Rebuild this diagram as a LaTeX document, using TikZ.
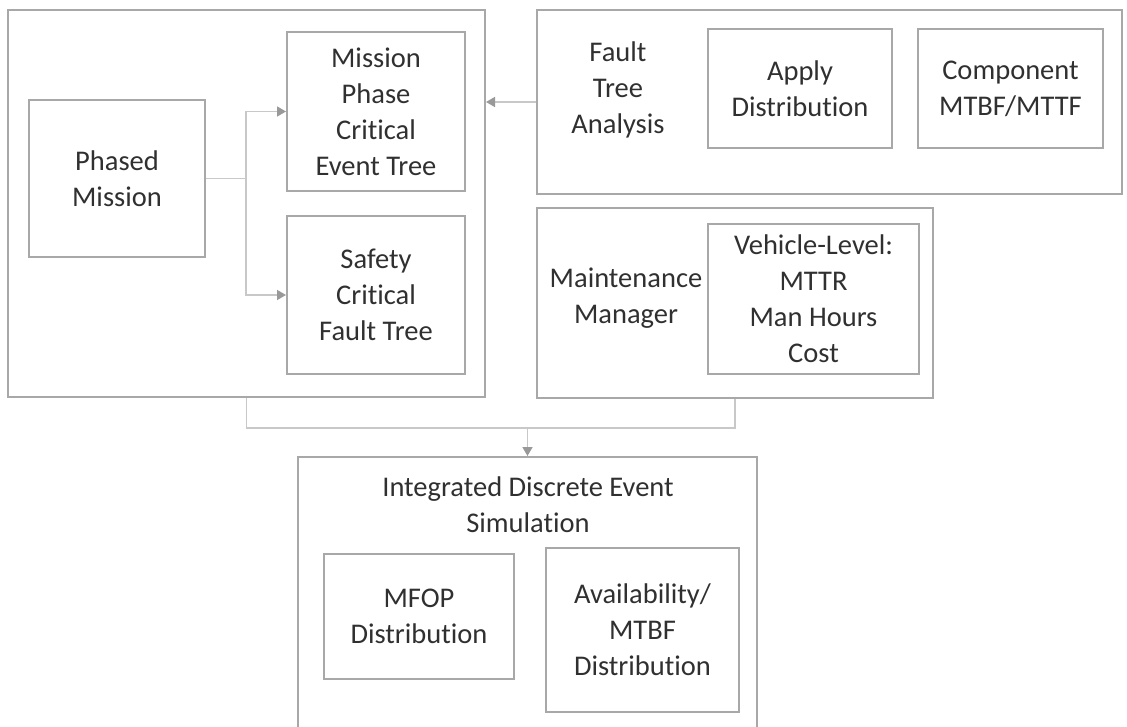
\documentclass[tikz,border=0pt]{standalone}
\usepackage{fontspec}
\setmainfont{Carlito}[Ligatures={NoCommon}]
\usetikzlibrary{arrows.meta,calc}
\definecolor{boxc}{HTML}{A8A8A8}
\definecolor{connc}{HTML}{C8C8C8}
\definecolor{tipc}{HTML}{999999}
\definecolor{txtc}{HTML}{303030}
\begin{document}
\begin{tikzpicture}[x=1pt,y=-1pt,
  every node/.style={font=\fontsize{28.5}{36}\selectfont, text=txtc, align=center, inner sep=0pt},
  box/.style={draw=boxc, line width=2pt, rectangle},
  lbl/.style={},
  conn/.style={draw=connc, line width=1.6pt},
  arr/.style={conn, -{Triangle[length=9pt,width=10pt,color=tipc]}}]
\useasboundingbox (0,0) rectangle (1127,726);
\clip (0,0) rectangle (1127,726);
% outer containers
\node[box, minimum width=477pt, minimum height=387pt] (lo) at (246.5,203.5) {};
\node[box, minimum width=585pt, minimum height=184pt] (fo) at (829.5,102) {};
\node[box, minimum width=396pt, minimum height=190pt] (mo) at (735,303) {};
\node[box, minimum width=459pt, minimum height=283pt] (ie) at (527.5,598.5) {};
% inner boxes
\node[box, minimum width=176pt, minimum height=157pt] (pm) at (117,178.5) {Phased\\Mission};
\node[box, minimum width=178pt, minimum height=159pt] (mp) at (376,111.5) {Mission\\Phase\\Critical\\Event Tree};
\node[box, minimum width=178pt, minimum height=158pt] (sc) at (376,295) {Safety\\Critical\\Fault Tree};
\node[box, minimum width=184pt, minimum height=119pt] (ad) at (800,88.5) {Apply\\Distribution};
\node[box, minimum width=185pt, minimum height=119pt] (cm) at (1010.5,88.5) {Component\\MTBF/MTTF};
\node[box, minimum width=211pt, minimum height=150pt] (vl) at (813.5,299) {Vehicle-Level:\\MTTR\\Man Hours\\Cost};
\node[box, minimum width=190pt, minimum height=125pt] (mf) at (419,616.5) {MFOP\\Distribution};
\node[box, minimum width=193pt, minimum height=164pt] (av) at (642.5,630) {Availability/\\MTBF\\Distribution};
% labels of containers
\node[lbl] (ftal) at (618,90) {Fault\\Tree\\Analysis};
\node[lbl] (mml) at (626,298) {Maintenance\\Manager};
\node[lbl] (iel) at (528,505) {Integrated Discrete Event\\Simulation};
% connectors
\coordinate (j1) at (246,178.5);
\coordinate (jb) at (527.5,428);
\draw[conn] (pm.east) -- (j1);
\draw[arr] (j1) |- (mp.west);
\draw[arr] (j1) |- (sc.west);
\draw[arr] (fo.west) -- (fo.west -| lo.east);
\draw[conn] (lo.south) |- (jb) -| (mo.south);
\draw[arr] (jb) -- (ie.north);
\end{tikzpicture}
\end{document}
